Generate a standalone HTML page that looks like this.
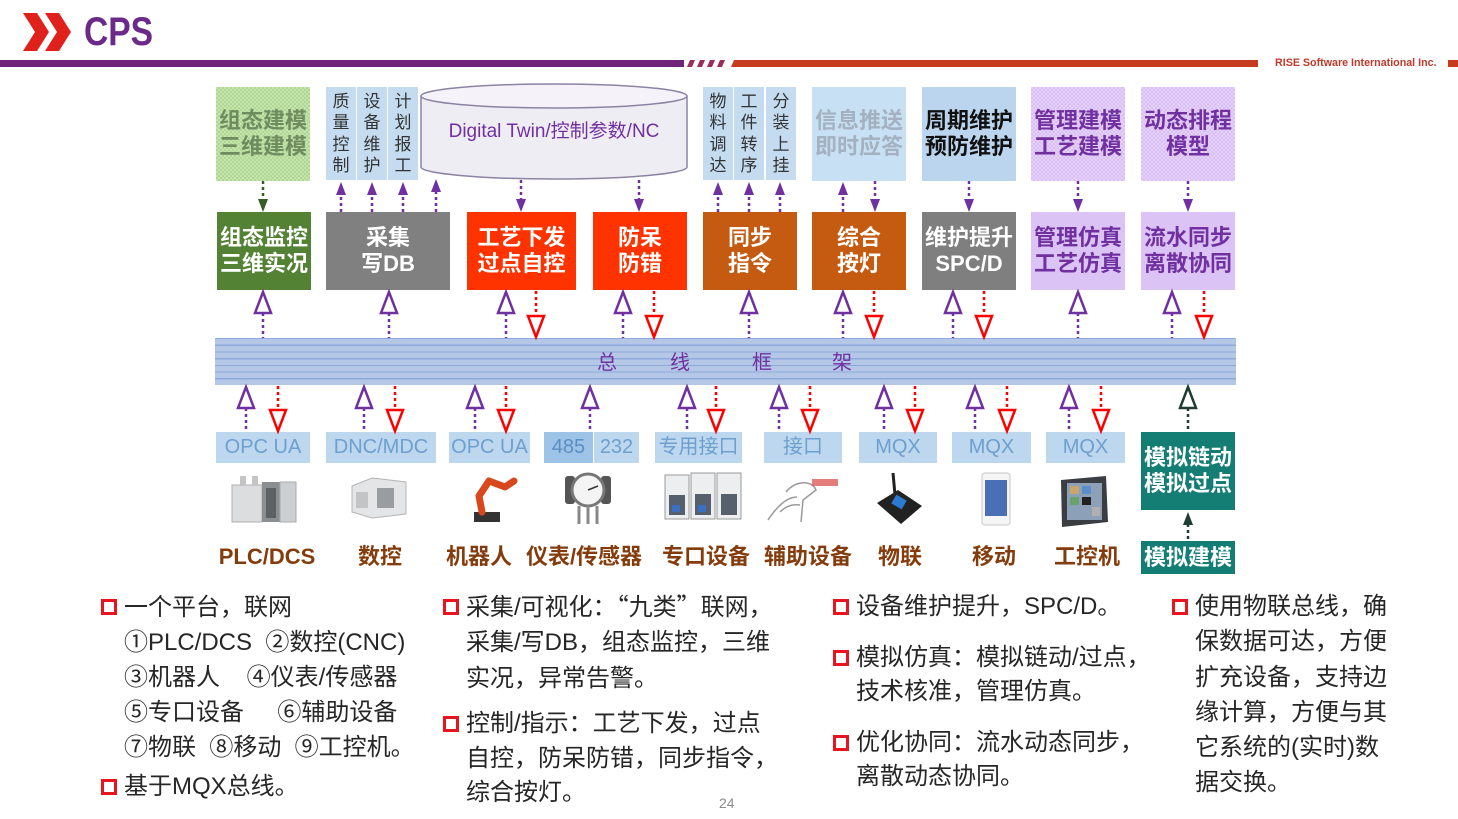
<!DOCTYPE html>
<html><head><meta charset="utf-8">
<style>
*{margin:0;padding:0;box-sizing:border-box}
body{width:1458px;height:819px;background:#fff;position:relative;overflow:hidden;font-family:"Liberation Sans","Noto Sans CJK SC",sans-serif}
.a{position:absolute}
.bx{position:absolute;display:flex;flex-direction:column;align-items:center;justify-content:center;text-align:center;font-weight:bold;font-size:22px;line-height:26px;white-space:nowrap}
.col{position:absolute;top:87px;height:93px;width:30px;background:#c5dcf0;font-size:17px;line-height:21.3px;text-align:center;color:#333;padding-top:4px}
.lb{position:absolute;top:432px;height:31px;background:#bdd7ee;color:#6d9fcf;font-size:20px;line-height:31px;text-align:center;white-space:nowrap}
.dv{position:absolute;top:543px;width:150px;text-align:center;font-size:22px;line-height:28px;font-weight:bold;color:#843c0c;white-space:nowrap}
.t{position:absolute;font-size:24px;line-height:34px;height:34px;color:#262626;white-space:nowrap}
.cj{font-family:"Noto Sans CJK SC",sans-serif;line-height:0}
.b{position:absolute;width:16px;height:16px;border:3.5px solid #e8141e;background:#fff}
.bt{position:absolute;top:349px;font-size:20px;line-height:28px;color:#7030a0;width:30px;text-align:center}
</style></head><body>

<!-- header -->
<svg class="a" style="left:0;top:0" width="1458" height="80">
<polygon points="23,13 37,13 49,32 37,51 23,51 35,32" fill="#e0201b"/>
<polygon points="45,13 59,13 71,32 59,51 45,51 57,32" fill="#e0201b"/>
<rect x="0" y="60" width="684" height="7" fill="#6f2479"/>
<polygon points="690,60 695,60 692,67 687,67" fill="#9b2c5e"/>
<polygon points="700,60 705,60 702,67 697,67" fill="#9b2c5e"/>
<polygon points="710,60 715,60 712,67 707,67" fill="#9b2c5e"/>
<polygon points="720,60 725,60 722,67 717,67" fill="#9b2c5e"/>
<polygon points="734,60 1258,60 1258,67 731,67" fill="#c63b1e"/>
<rect x="1448" y="60" width="10" height="7" fill="#c63b1e"/>
</svg>
<div class="a" style="left:84px;top:12px;font-size:40px;line-height:40px;font-weight:bold;color:#6b2a8a;transform:scaleX(0.84);transform-origin:0 0">CPS</div>
<div class="a" style="left:1275px;top:57px;font-size:10.7px;line-height:13px;font-weight:bold;color:#c0392b;white-space:nowrap">RISE Software International Inc.</div>

<!-- top row -->
<div class="bx" style="left:216px;top:87px;width:94px;height:94px;background:repeating-conic-gradient(#b0d793 0 25%,#c4e3ad 0 50%) 0 0/4px 4px;color:#6f8c60">组态建模<br>三维建模</div>
<div class="col" style="left:326px">质<br>量<br>控<br>制</div>
<div class="col" style="left:357px">设<br>备<br>维<br>护</div>
<div class="col" style="left:388px">计<br>划<br>报<br>工</div>

<svg class="a" style="left:0;top:0" width="1458" height="819">
<path d="M421,96 L421,167 A133,12 0 0 0 687,167 L687,96" fill="#efedf4" stroke="#8c83a3" stroke-width="1.5"/>
<ellipse cx="554" cy="96" rx="133" ry="12" fill="#f5f3f9" stroke="#8c83a3" stroke-width="1.5"/>
</svg>
<div class="a" style="left:421px;top:118px;width:266px;text-align:center;font-size:19px;line-height:27px;color:#7030a0;white-space:nowrap">Digital Twin/控制参数/NC</div>

<div class="col" style="left:703px">物<br>料<br>调<br>达</div>
<div class="col" style="left:734px">工<br>件<br>转<br>序</div>
<div class="col" style="left:766px">分<br>装<br>上<br>挂</div>

<div class="bx" style="left:812px;top:87px;width:94px;height:94px;background:#c8e0f4;color:#a3b1c0">信息推送<br>即时应答</div>
<div class="bx" style="left:922px;top:87px;width:94px;height:94px;background:#bcd5ee;color:#111">周期维护<br>预防维护</div>
<div class="bx" style="left:1031px;top:87px;width:94px;height:94px;background:repeating-conic-gradient(#d9bff4 0 25%,#e4d0f8 0 50%) 0 0/4px 4px;color:#7030a0">管理建模<br>工艺建模</div>
<div class="bx" style="left:1141px;top:87px;width:94px;height:94px;background:repeating-conic-gradient(#d9bff4 0 25%,#e4d0f8 0 50%) 0 0/4px 4px;color:#7030a0">动态排程<br>模型</div>

<!-- middle row -->
<div class="bx" style="left:217px;top:212px;width:94px;height:78px;background:#548235;color:#fff">组态监控<br>三维实况</div>
<div class="bx" style="left:326px;top:212px;width:124px;height:78px;background:#808080;color:#fff">采集<br>写DB</div>
<div class="bx" style="left:467px;top:212px;width:109px;height:78px;background:#ff3300;color:#fff">工艺下发<br>过点自控</div>
<div class="bx" style="left:593px;top:212px;width:94px;height:78px;background:#ff3300;color:#fff">防呆<br>防错</div>
<div class="bx" style="left:703px;top:212px;width:94px;height:78px;background:#c55a11;color:#fff">同步<br>指令</div>
<div class="bx" style="left:812px;top:212px;width:94px;height:78px;background:#c55a11;color:#fff">综合<br>按灯</div>
<div class="bx" style="left:922px;top:212px;width:94px;height:78px;background:#7f7f7f;color:#fff">维护提升<br>SPC/D</div>
<div class="bx" style="left:1031px;top:212px;width:94px;height:78px;background:#dcc3f5;color:#7030a0">管理仿真<br>工艺仿真</div>
<div class="bx" style="left:1141px;top:212px;width:94px;height:78px;background:#dcc3f5;color:#7030a0">流水同步<br>离散协同</div>

<!-- bus -->
<div class="a" style="left:215px;top:338px;width:1021px;height:47px;background:repeating-linear-gradient(to bottom,#8eaadb 0,#8eaadb 1.2px,#b4c7e7 1.2px,#b4c7e7 6.7px)"></div>
<div class="bt" style="left:592px">总</div>
<div class="bt" style="left:665px">线</div>
<div class="bt" style="left:747px">框</div>
<div class="bt" style="left:827px">架</div>

<!-- labels row -->
<div class="lb" style="left:216px;width:94px">OPC UA</div>
<div class="lb" style="left:326px;width:110px">DNC/MDC</div>
<div class="lb" style="left:449px;width:81px">OPC UA</div>
<div class="lb" style="left:544px;width:49px;background:#9dc3e6;color:#5b8fc4">485</div>
<div class="lb" style="left:594px;width:45px">232</div>
<div class="lb" style="left:655px;width:87px">专用接口</div>
<div class="lb" style="left:764px;width:78px">接口</div>
<div class="lb" style="left:859px;width:78px">MQX</div>
<div class="lb" style="left:952px;width:79px">MQX</div>
<div class="lb" style="left:1046px;width:79px">MQX</div>
<div class="bx" style="left:1141px;top:432px;width:94px;height:78px;background:#147d74;color:#fff">模拟链动<br>模拟过点</div>
<div class="bx" style="left:1141px;top:541px;width:94px;height:33px;background:#147d74;color:#fff">模拟建模</div>

<!-- connectors & icons -->
<svg class="a" style="left:0;top:0" width="1458" height="819">
<g stroke-width="2.5" stroke-dasharray="3 3" fill="none">
 <g stroke="#7030a0">
  <line x1="341" y1="212" x2="341" y2="193"/><line x1="372" y1="212" x2="372" y2="193"/>
  <line x1="403" y1="212" x2="403" y2="193"/><line x1="436" y1="212" x2="436" y2="191"/>
  <line x1="718" y1="212" x2="718" y2="193"/><line x1="749" y1="212" x2="749" y2="193"/>
  <line x1="780" y1="212" x2="780" y2="193"/><line x1="843" y1="212" x2="843" y2="193"/>
  <line x1="521" y1="180" x2="521" y2="200"/><line x1="639" y1="180" x2="639" y2="200"/>
  <line x1="875" y1="181" x2="875" y2="200"/><line x1="969" y1="181" x2="969" y2="200"/>
  <line x1="1078" y1="181" x2="1078" y2="200"/><line x1="1188" y1="181" x2="1188" y2="200"/>
 </g>
 <line stroke="#3a5a28" x1="263" y1="181" x2="263" y2="200"/>
 <g stroke="#7030a0">
  <line x1="263" y1="313" x2="263" y2="338"/><line x1="389" y1="313" x2="389" y2="338"/>
  <line x1="506" y1="313" x2="506" y2="338"/><line x1="623" y1="313" x2="623" y2="338"/>
  <line x1="749" y1="313" x2="749" y2="338"/><line x1="843" y1="313" x2="843" y2="338"/>
  <line x1="953" y1="313" x2="953" y2="338"/><line x1="1078" y1="313" x2="1078" y2="338"/>
  <line x1="1172" y1="313" x2="1172" y2="338"/>
  <line x1="246" y1="408" x2="246" y2="432"/><line x1="364" y1="408" x2="364" y2="432"/>
  <line x1="475" y1="408" x2="475" y2="432"/><line x1="590" y1="408" x2="590" y2="432"/>
  <line x1="687" y1="408" x2="687" y2="432"/><line x1="779" y1="408" x2="779" y2="432"/>
  <line x1="884" y1="408" x2="884" y2="432"/><line x1="975" y1="408" x2="975" y2="432"/>
  <line x1="1069" y1="408" x2="1069" y2="432"/>
 </g>
 <g stroke="#ff0000">
  <line x1="536" y1="291" x2="536" y2="315"/><line x1="654" y1="291" x2="654" y2="315"/>
  <line x1="874" y1="291" x2="874" y2="315"/><line x1="984" y1="291" x2="984" y2="315"/>
  <line x1="1204" y1="291" x2="1204" y2="315"/>
  <line x1="278" y1="386" x2="278" y2="409"/><line x1="395" y1="386" x2="395" y2="409"/>
  <line x1="506" y1="386" x2="506" y2="409"/><line x1="716" y1="386" x2="716" y2="409"/>
  <line x1="810" y1="386" x2="810" y2="409"/><line x1="915" y1="386" x2="915" y2="409"/>
  <line x1="1007" y1="386" x2="1007" y2="409"/><line x1="1101" y1="386" x2="1101" y2="409"/>
 </g>
 <line stroke="#1f3d33" x1="1188" y1="408" x2="1188" y2="432"/>
 <line stroke="#1f3d33" x1="1188" y1="524" x2="1188" y2="541"/>
</g>
<g fill="#7030a0">
 <polygon points="341,182 336,195 346,195"/><polygon points="372,182 367,195 377,195"/>
 <polygon points="403,182 398,195 408,195"/><polygon points="436,179 431,192 441,192"/>
 <polygon points="718,182 713,195 723,195"/><polygon points="749,182 744,195 754,195"/>
 <polygon points="780,182 775,195 785,195"/><polygon points="843,182 838,195 848,195"/>
 <polygon points="516,199 526,199 521,212"/><polygon points="634,199 644,199 639,212"/>
 <polygon points="870,199 880,199 875,212"/><polygon points="964,199 974,199 969,212"/>
 <polygon points="1073,199 1083,199 1078,212"/><polygon points="1183,199 1193,199 1188,212"/>
</g>
<polygon points="258,199 268,199 263,212" fill="#3a5a28"/>
<polygon points="1188,512 1183,525 1193,525" fill="#1f3d33"/>
<g fill="#fff" stroke="#7030a0" stroke-width="2.5" stroke-linejoin="miter">
 <polygon points="263,292 255,313 271,313"/><polygon points="389,292 381,313 397,313"/>
 <polygon points="506,292 498,313 514,313"/><polygon points="623,292 615,313 631,313"/>
 <polygon points="749,292 741,313 757,313"/><polygon points="843,292 835,313 851,313"/>
 <polygon points="953,292 945,313 961,313"/><polygon points="1078,292 1070,313 1086,313"/>
 <polygon points="1172,292 1164,313 1180,313"/>
 <polygon points="246,387 238,408 254,408"/><polygon points="364,387 356,408 372,408"/>
 <polygon points="475,387 467,408 483,408"/><polygon points="590,387 582,408 598,408"/>
 <polygon points="687,387 679,408 695,408"/><polygon points="779,387 771,408 787,408"/>
 <polygon points="884,387 876,408 892,408"/><polygon points="975,387 967,408 983,408"/>
 <polygon points="1069,387 1061,408 1077,408"/>
</g>
<polygon points="1188,387 1180,408 1196,408" fill="#fff" stroke="#1f3d33" stroke-width="2.5"/>
<g fill="#fff" stroke="#ff0000" stroke-width="2.5">
 <polygon points="528,316 544,316 536,337"/><polygon points="646,316 662,316 654,337"/>
 <polygon points="866,316 882,316 874,337"/><polygon points="976,316 992,316 984,337"/>
 <polygon points="1196,316 1212,316 1204,337"/>
 <polygon points="270,410 286,410 278,431"/><polygon points="387,410 403,410 395,431"/>
 <polygon points="498,410 514,410 506,431"/><polygon points="708,410 724,410 716,431"/>
 <polygon points="802,410 818,410 810,431"/><polygon points="907,410 923,410 915,431"/>
 <polygon points="999,410 1015,410 1007,431"/><polygon points="1093,410 1109,410 1101,431"/>
</g>

<!-- icons -->
<rect x="232" y="485" width="30" height="37" fill="#dcdddf" stroke="#b0b0b0"/>
<rect x="240" y="476" width="6" height="9" fill="#c4c4c4"/><rect x="252" y="476" width="6" height="9" fill="#c4c4c4"/>
<rect x="262" y="482" width="18" height="40" fill="#8c8f92"/>
<rect x="266" y="488" width="10" height="30" fill="#5d6064"/>
<rect x="280" y="482" width="16" height="40" fill="#cdd0d2" stroke="#aaa"/>
<path d="M352,486 L372,478 L406,482 L406,514 L372,518 L352,512Z" fill="#e4e5e6" stroke="#b5b5b5"/>
<rect x="377" y="488" width="17" height="20" fill="#9a9da0"/>
<rect x="356" y="492" width="12" height="16" fill="#c2c4c6"/>
<rect x="474" y="512" width="26" height="10" fill="#333"/>
<path d="M482,512 L479,496 L489,481 L505,487 L514,481" stroke="#d9481c" stroke-width="7" fill="none" stroke-linecap="round" stroke-linejoin="round"/>
<rect x="565" y="476" width="10" height="28" rx="3" fill="#555"/>
<rect x="601" y="476" width="10" height="28" rx="3" fill="#555"/>
<circle cx="588" cy="490" r="16" fill="#f4f4f4" stroke="#777" stroke-width="3"/>
<line x1="588" y1="490" x2="598" y2="486" stroke="#333" stroke-width="1.5"/>
<line x1="579" y1="506" x2="579" y2="524" stroke="#888" stroke-width="3"/>
<line x1="588" y1="506" x2="588" y2="524" stroke="#888" stroke-width="3"/>
<line x1="597" y1="506" x2="597" y2="524" stroke="#888" stroke-width="3"/>
<rect x="665" y="475" width="24" height="44" fill="#eceeef" stroke="#999"/>
<rect x="691" y="473" width="24" height="46" fill="#eceeef" stroke="#999"/>
<rect x="717" y="473" width="24" height="46" fill="#eceeef" stroke="#999"/>
<rect x="669" y="495" width="16" height="20" fill="#56606c"/>
<rect x="695" y="494" width="16" height="21" fill="#56606c"/>
<rect x="721" y="494" width="16" height="21" fill="#56606c"/>
<rect x="672" y="505" width="8" height="7" fill="#3b6fc0"/>
<rect x="698" y="505" width="8" height="7" fill="#3b6fc0"/>
<path d="M786,492 C796,480 812,480 816,490 L803,500 L801,522 M768,520 C778,505 788,497 797,497 M780,512 C786,506 792,504 800,505" stroke="#9a9a9a" fill="none" stroke-width="1.5"/>
<rect x="812" y="479" width="26" height="7" fill="#d9534f" opacity="0.75"/>
<line x1="893" y1="473" x2="895" y2="495" stroke="#222" stroke-width="3"/>
<path d="M877,503 L898,490 L922,506 L901,524Z" fill="#222"/>
<rect x="893" y="497" width="12" height="10" fill="#2a7ad0" transform="rotate(30 899 502)"/>
<rect x="982" y="473" width="28" height="52" rx="3" fill="#f5f5f5" stroke="#c8c8c8"/>
<rect x="985" y="480" width="22" height="36" fill="#4a6fb5"/>
<path d="M1061,480 L1106,476 L1108,522 L1062,527Z" fill="#3a3d42"/>
<rect x="1067" y="483" width="35" height="37" fill="#8ca0b8"/>
<rect x="1070" y="486" width="9" height="8" fill="#c9a66b"/><rect x="1082" y="486" width="9" height="8" fill="#5a8fc9"/>
<rect x="1070" y="497" width="9" height="8" fill="#6aa36a"/><rect x="1082" y="497" width="9" height="8" fill="#222"/>
<rect x="1092" y="507" width="8" height="9" fill="#b0b0b0"/>
</svg>

<!-- device labels -->
<div class="dv" style="left:192px">PLC/DCS</div>
<div class="dv" style="left:305px">数控</div>
<div class="dv" style="left:404px">机器人</div>
<div class="dv" style="left:509px">仪表/传感器</div>
<div class="dv" style="left:631px">专口设备</div>
<div class="dv" style="left:733px">辅助设备</div>
<div class="dv" style="left:825px">物联</div>
<div class="dv" style="left:919px">移动</div>
<div class="dv" style="left:1012px">工控机</div>

<!-- bottom text column 1 -->
<div class="b" style="left:101px;top:599px"></div>
<div class="t" style="left:124px;top:591px">一个平台，联网</div>
<div class="t" style="left:124px;top:626px">①PLC/DCS &nbsp;②数控(CNC)</div>
<div class="t" style="left:124px;top:661px">③机器人 &nbsp;&nbsp;&nbsp;④仪表/传感器</div>
<div class="t" style="left:124px;top:696px">⑤专口设备 &nbsp;&nbsp;&nbsp;&nbsp;⑥辅助设备</div>
<div class="t" style="left:124px;top:731px">⑦物联 &nbsp;⑧移动 &nbsp;⑨工控机。</div>
<div class="b" style="left:101px;top:779px"></div>
<div class="t" style="left:124px;top:770px">基于MQX总线。</div>

<!-- column 2 -->
<div class="b" style="left:443px;top:599px"></div>
<div class="t" style="left:466px;top:591px">采集/可视化：<span class="cj">“九类”</span>联网，</div>
<div class="t" style="left:466px;top:626px">采集/写DB，组态监控，三维</div>
<div class="t" style="left:466px;top:662px">实况，异常告警。</div>
<div class="b" style="left:443px;top:716px"></div>
<div class="t" style="left:466px;top:707px">控制/指示：工艺下发，过点</div>
<div class="t" style="left:466px;top:742px">自控，防呆防错，同步指令，</div>
<div class="t" style="left:466px;top:776px">综合按灯。</div>
<div class="a" style="left:719px;top:795px;font-size:14px;line-height:16px;color:#8c8c8c">24</div>

<!-- column 3 -->
<div class="b" style="left:833px;top:599px"></div>
<div class="t" style="left:856px;top:590px">设备维护提升，SPC/D。</div>
<div class="b" style="left:833px;top:650px"></div>
<div class="t" style="left:856px;top:641px">模拟仿真：模拟链动/过点，</div>
<div class="t" style="left:856px;top:675px">技术核准，管理仿真。</div>
<div class="b" style="left:833px;top:735px"></div>
<div class="t" style="left:856px;top:726px">优化协同：流水动态同步，</div>
<div class="t" style="left:856px;top:760px">离散动态协同。</div>

<!-- column 4 -->
<div class="b" style="left:1172px;top:599px"></div>
<div class="t" style="left:1195px;top:590px">使用物联总线，确</div>
<div class="t" style="left:1195px;top:625px">保数据可达，方便</div>
<div class="t" style="left:1195px;top:661px">扩充设备，支持边</div>
<div class="t" style="left:1195px;top:696px">缘计算，方便与其</div>
<div class="t" style="left:1195px;top:731px">它系统的(实时)数</div>
<div class="t" style="left:1195px;top:766px">据交换。</div>

</body></html>
